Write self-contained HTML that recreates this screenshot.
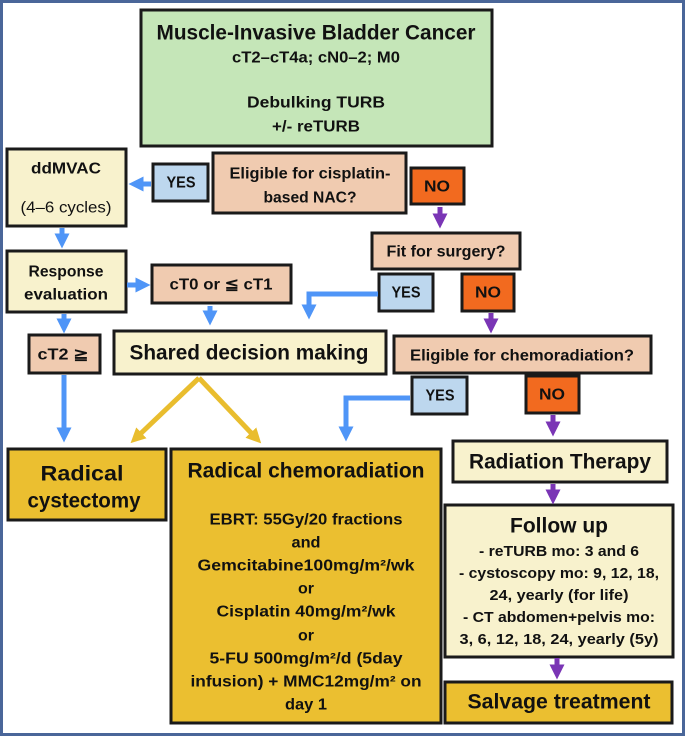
<!DOCTYPE html>
<html><head><meta charset="utf-8"><style>
html,body{margin:0;padding:0;background:#fff}
svg{display:block}
text{font-family:"Liberation Sans",sans-serif;font-weight:bold;fill:#111;dominant-baseline:central;text-anchor:middle}
.r{stroke:#1a1a1a;stroke-width:3}
</style></head><body>
<svg width="685" height="736" viewBox="0 0 685 736" xmlns="http://www.w3.org/2000/svg">
<rect x="1.5" y="1.5" width="682" height="733" fill="#fff" stroke="#4a6699" stroke-width="3"/>
<defs>
<marker id="mb" markerWidth="3" markerHeight="3" refX="1.5" refY="1.5" orient="auto" markerUnits="strokeWidth"><path d="M0,0 L3,1.5 L0,3 Z" fill="#4f95f7"/></marker>
<marker id="mp" markerWidth="3" markerHeight="3" refX="1.5" refY="1.5" orient="auto" markerUnits="strokeWidth"><path d="M0,0 L3,1.5 L0,3 Z" fill="#7a35b5"/></marker>
<marker id="my" markerWidth="3" markerHeight="3" refX="1.5" refY="1.5" orient="auto" markerUnits="strokeWidth"><path d="M0,0 L3,1.5 L0,3 Z" fill="#e9bd2e"/></marker>
</defs>
<rect class="r" x="141" y="10" width="351" height="136" fill="#c5e6b8"/>
<rect class="r" x="7" y="149" width="119" height="77" fill="#f8f2cd"/>
<rect class="r" x="153" y="164" width="55" height="37" fill="#bdd7ee"/>
<rect class="r" x="213" y="153" width="193" height="60" fill="#f0cbb0"/>
<rect class="r" x="411" y="168" width="53" height="36" fill="#f26a1f"/>
<rect class="r" x="372" y="233" width="148" height="36" fill="#f0cbb0"/>
<rect class="r" x="379" y="274" width="54" height="37" fill="#bdd7ee"/>
<rect class="r" x="462" y="274" width="52" height="37" fill="#f26a1f"/>
<rect class="r" x="394" y="336" width="257" height="37" fill="#f0cbb0"/>
<rect class="r" x="412" y="377" width="55" height="37" fill="#bdd7ee"/>
<rect class="r" x="526" y="376" width="53" height="37" fill="#f26a1f"/>
<rect class="r" x="7" y="251" width="119" height="61" fill="#f8f2cd"/>
<rect class="r" x="152" y="265" width="139" height="38" fill="#f0cbb0"/>
<rect class="r" x="29" y="335" width="71" height="38" fill="#f0cbb0"/>
<rect class="r" x="114" y="331" width="272" height="43" fill="#f8f2cd"/>
<rect class="r" x="8" y="449" width="158" height="71" fill="#ebbf30"/>
<rect class="r" x="171" y="449" width="270" height="274" fill="#ebbf30"/>
<rect class="r" x="453" y="441" width="214" height="41" fill="#f8f2cd"/>
<rect class="r" x="445" y="505" width="228" height="152" fill="#f8f2cd"/>
<rect class="r" x="445" y="682" width="227" height="41" fill="#ebbf30"/>
<g fill="none" stroke-width="5">
<line x1="151" y1="184" x2="136" y2="184" stroke="#4f95f7" marker-end="url(#mb)"/>
<line x1="62" y1="228" x2="62" y2="241" stroke="#4f95f7" marker-end="url(#mb)"/>
<line x1="127" y1="285" x2="143" y2="285" stroke="#4f95f7" marker-end="url(#mb)"/>
<line x1="210" y1="306" x2="210" y2="318" stroke="#4f95f7" marker-end="url(#mb)"/>
<line x1="64" y1="314" x2="64" y2="326" stroke="#4f95f7" marker-end="url(#mb)"/>
<line x1="64" y1="375" x2="64" y2="435" stroke="#4f95f7" marker-end="url(#mb)"/>
<polyline points="378,294 309,294 309,312" stroke="#4f95f7" marker-end="url(#mb)"/>
<polyline points="410,398 346,398 346,434" stroke="#4f95f7" marker-end="url(#mb)"/>
<line x1="440" y1="207" x2="440" y2="221" stroke="#7a35b5" marker-end="url(#mp)"/>
<line x1="491" y1="313" x2="491" y2="326" stroke="#7a35b5" marker-end="url(#mp)"/>
<line x1="553" y1="415" x2="553" y2="429" stroke="#7a35b5" marker-end="url(#mp)"/>
<line x1="553" y1="484" x2="553" y2="497" stroke="#7a35b5" marker-end="url(#mp)"/>
<line x1="557" y1="658" x2="557" y2="672" stroke="#7a35b5" marker-end="url(#mp)"/>
<line x1="199" y1="378" x2="136" y2="438" stroke="#e9bd2e" marker-end="url(#my)"/>
<line x1="199" y1="378" x2="256" y2="438" stroke="#e9bd2e" marker-end="url(#my)"/>
</g>
<text x="316" y="33" font-size="21" textLength="319" lengthAdjust="spacingAndGlyphs">Muscle-Invasive Bladder Cancer</text>
<text x="316" y="58" font-size="15.5" textLength="168" lengthAdjust="spacingAndGlyphs">cT2–cT4a; cN0–2; M0</text>
<text x="316" y="103" font-size="15.5" textLength="138" lengthAdjust="spacingAndGlyphs">Debulking TURB</text>
<text x="316" y="127" font-size="15.5" textLength="88" lengthAdjust="spacingAndGlyphs">+/- reTURB</text>
<text x="66" y="169" font-size="15.5" textLength="70" lengthAdjust="spacingAndGlyphs">ddMVAC</text>
<text x="66" y="208" font-size="15.5" style="font-weight:normal" textLength="91" lengthAdjust="spacingAndGlyphs">(4–6 cycles)</text>
<text x="181" y="183" font-size="15.5" textLength="29" lengthAdjust="spacingAndGlyphs">YES</text>
<text x="310" y="174" font-size="15.5" textLength="161" lengthAdjust="spacingAndGlyphs">Eligible for cisplatin-</text>
<text x="310" y="198" font-size="15.5" textLength="93" lengthAdjust="spacingAndGlyphs">based NAC?</text>
<text x="437" y="187" font-size="15.5" textLength="26" lengthAdjust="spacingAndGlyphs">NO</text>
<text x="446" y="252" font-size="15.5" textLength="119" lengthAdjust="spacingAndGlyphs">Fit for surgery?</text>
<text x="406" y="293" font-size="15.5" textLength="29" lengthAdjust="spacingAndGlyphs">YES</text>
<text x="488" y="293" font-size="15.5" textLength="26" lengthAdjust="spacingAndGlyphs">NO</text>
<text x="522" y="356" font-size="15.5" textLength="224" lengthAdjust="spacingAndGlyphs">Eligible for chemoradiation?</text>
<text x="440" y="396" font-size="15.5" textLength="29" lengthAdjust="spacingAndGlyphs">YES</text>
<text x="552" y="395" font-size="15.5" textLength="26" lengthAdjust="spacingAndGlyphs">NO</text>
<text x="66" y="272" font-size="15.5" textLength="75" lengthAdjust="spacingAndGlyphs">Response</text>
<text x="66" y="295" font-size="15.5" textLength="84" lengthAdjust="spacingAndGlyphs">evaluation</text>
<text x="221" y="285" font-size="15.5" textLength="103" lengthAdjust="spacingAndGlyphs">cT0 or ≦ cT1</text>
<text x="63" y="355" font-size="15.5" textLength="51" lengthAdjust="spacingAndGlyphs">cT2 ≧</text>
<text x="249" y="353" font-size="21" textLength="239" lengthAdjust="spacingAndGlyphs">Shared decision making</text>
<text x="82" y="474" font-size="21" textLength="83" lengthAdjust="spacingAndGlyphs">Radical</text>
<text x="84" y="501" font-size="21" textLength="113" lengthAdjust="spacingAndGlyphs">cystectomy</text>
<text x="306" y="471" font-size="21" textLength="237" lengthAdjust="spacingAndGlyphs">Radical chemoradiation</text>
<g font-size="15.5">
<text x="306" y="520" textLength="193" lengthAdjust="spacingAndGlyphs">EBRT: 55Gy/20 fractions</text>
<text x="306" y="543" textLength="29" lengthAdjust="spacingAndGlyphs">and</text>
<text x="306" y="566" textLength="217" lengthAdjust="spacingAndGlyphs">Gemcitabine100mg/m²/wk</text>
<text x="306" y="589" textLength="16" lengthAdjust="spacingAndGlyphs">or</text>
<text x="306" y="612" textLength="179" lengthAdjust="spacingAndGlyphs">Cisplatin 40mg/m²/wk</text>
<text x="306" y="636" textLength="16" lengthAdjust="spacingAndGlyphs">or</text>
<text x="306" y="659" textLength="193" lengthAdjust="spacingAndGlyphs">5-FU 500mg/m²/d (5day</text>
<text x="306" y="682" textLength="231" lengthAdjust="spacingAndGlyphs">infusion) + MMC12mg/m² on</text>
<text x="306" y="705" textLength="42" lengthAdjust="spacingAndGlyphs">day 1</text>
</g>
<text x="560" y="462" font-size="21" textLength="182" lengthAdjust="spacingAndGlyphs">Radiation Therapy</text>
<text x="559" y="526" font-size="21" textLength="98" lengthAdjust="spacingAndGlyphs">Follow up</text>
<g font-size="14.5">
<text x="559" y="552" textLength="160" lengthAdjust="spacingAndGlyphs">- reTURB mo: 3 and 6</text>
<text x="559" y="574" textLength="200" lengthAdjust="spacingAndGlyphs">- cystoscopy mo: 9, 12, 18,</text>
<text x="559" y="596" textLength="139" lengthAdjust="spacingAndGlyphs">24, yearly (for life)</text>
<text x="559" y="618" textLength="192" lengthAdjust="spacingAndGlyphs">- CT abdomen+pelvis mo:</text>
<text x="559" y="640" textLength="199" lengthAdjust="spacingAndGlyphs">3, 6, 12, 18, 24, yearly (5y)</text>
</g>
<text x="559" y="702" font-size="21" textLength="183" lengthAdjust="spacingAndGlyphs">Salvage treatment</text>
</svg>
</body></html>
